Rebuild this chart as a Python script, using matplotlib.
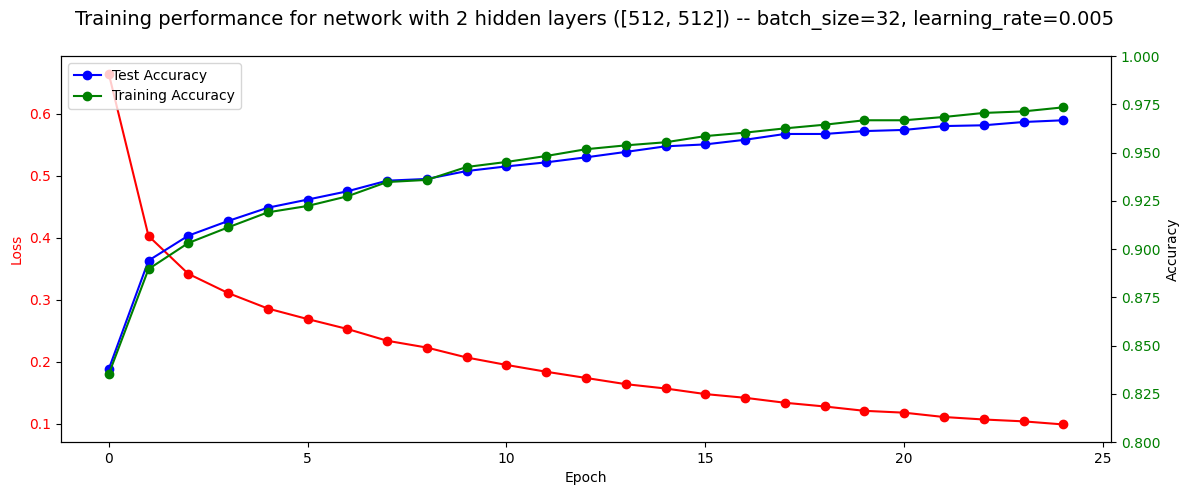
import numpy as np
import matplotlib
matplotlib.use("Agg")
import matplotlib.pyplot as plt

# --- values ---
epochs = list(range(25))

loss = [0.665, 0.403, 0.342, 0.311, 0.286, 0.269, 0.253, 0.234, 0.223, 0.207,
        0.195, 0.184, 0.174, 0.164, 0.157, 0.148, 0.142, 0.134, 0.128, 0.121,
        0.118, 0.111, 0.107, 0.104, 0.099]

test_acc = [0.8377, 0.8940, 0.9069, 0.9145, 0.9214, 0.9256, 0.9299, 0.9354, 0.9363, 0.9404,
            0.9428, 0.9449, 0.9475, 0.9503, 0.9532, 0.9542, 0.9566, 0.9596, 0.9596, 0.9611,
            0.9617, 0.9637, 0.9641, 0.9658, 0.9667]

train_acc = [0.8351, 0.8896, 0.9031, 0.9112, 0.9190, 0.9223, 0.9273, 0.9347, 0.9358, 0.9425,
             0.9451, 0.9482, 0.9517, 0.9537, 0.9553, 0.9585, 0.9603, 0.9625, 0.9644, 0.9667,
             0.9667, 0.9684, 0.9705, 0.9713, 0.9734]

fig, ax = plt.subplots(figsize=(11.89, 4.95), dpi=100)

# loss on the left axis
ax.plot(epochs, loss, 'o-', color='red', label='Loss')
ax.set_xlabel('Epoch')
ax.set_ylabel('Loss', color='red')
ax.tick_params(axis='y', labelcolor='red')

# accuracy on the right axis
ax2 = ax.twinx()
ax2.plot(epochs, test_acc, 'o-', color='blue', label='Test Accuracy')
ax2.plot(epochs, train_acc, 'o-', color='green', label='Training Accuracy')
ax2.set_ylabel('Accuracy')
ax2.set_ylim(0.8, 1.0)
ax2.tick_params(axis='y', labelcolor='green')
ax2.legend(loc='upper left')

fig.suptitle('Training performance for network with 2 hidden layers ([512, 512]) -- batch_size=32, learning_rate=0.005',
             fontsize=14)
fig.subplots_adjust(left=61 / 1189, right=1111 / 1189, top=1 - 56 / 495, bottom=1 - 442 / 495)
fig.savefig('out.png')
